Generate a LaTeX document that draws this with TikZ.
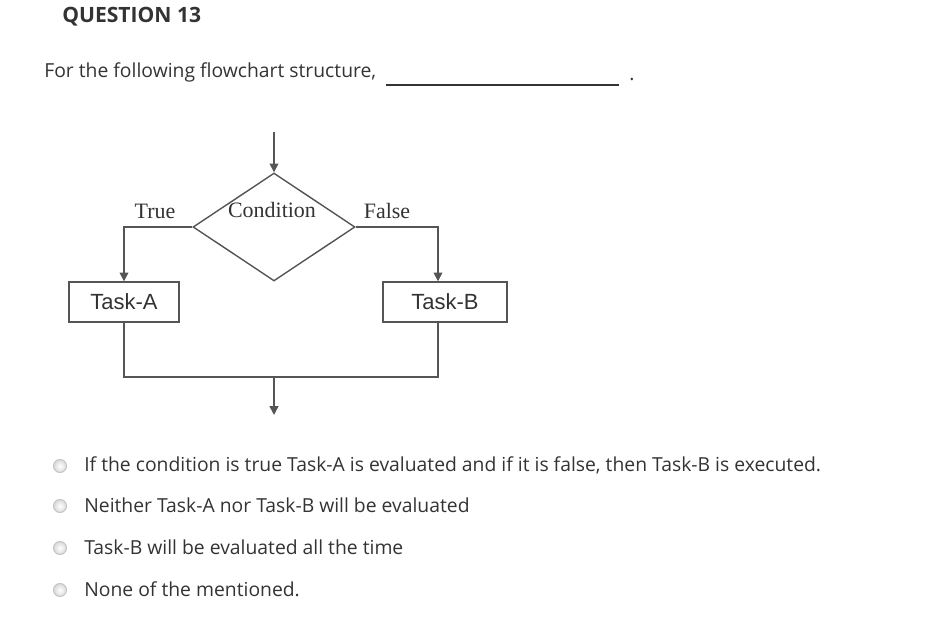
\documentclass[tikz,border=0pt]{standalone}
\usepackage{fontspec}
\setmainfont{Open Sans}
\newfontfamily\timesfont{Liberation Serif}
\newfontfamily\arialfont{Liberation Sans}
\usetikzlibrary{shapes.geometric,arrows.meta}
\definecolor{textgray}{HTML}{333333}
\definecolor{linegray}{HTML}{555555}
\tikzset{
    flow/.style={draw=linegray, line width=0.85pt},
    arr/.style={flow, -{Triangle[length=5pt,width=5pt]}},
    task/.style={draw=linegray, line width=0.8pt, minimum width=2.2cm, minimum height=0.8cm, inner sep=0pt, font=\arialfont\fontsize{12.5}{14}\selectfont, text=textgray},
    branch/.style={font=\timesfont\fontsize{12.5}{14}\selectfont, text=textgray, inner sep=0pt},
    radio/.style={circle, draw=gray!45, inner color=white, outer color=gray!30, line width=0.6pt, minimum size=0.26cm, inner sep=0pt},
    answer/.style={anchor=west, inner sep=0pt, font=\fontsize{11}{13}\selectfont, text=textgray}
}
\begin{document}
\begin{tikzpicture}[x=0.02cm, y=-0.02cm]
    \useasboundingbox (0,0) rectangle (934,644);
    % Heading and question
    \node[anchor=west, inner sep=0pt, font=\bfseries\fontsize{12}{15}\selectfont, text=textgray] (head) at (62,17) {QUESTION 13};
    \node[answer] (ask) at (44,72) {For the following flowchart structure,};
    \draw[textgray, line width=0.7pt] (386,85) -- (619,85);
    \node[answer] (dot) at (629,80) {.};

    % Draw the decision diamond
    \node[diamond, draw=linegray, line width=0.8pt, minimum width=3.24cm, minimum height=2.16cm, inner sep=0pt] (cond) at (274,227) {};
    \node[branch] (condtext) at (272,210) {Condition};
    \node[branch] (truetext) at (155,211) {True};
    \node[branch] (falsetext) at (387,211) {False};

    % Add the task boxes
    \node[task] (taskA) at (124,302) {Task-A};
    \node[task, minimum width=2.48cm] (taskB) at (445,302) {Task-B};

    % Connect everything
    \coordinate (in) at (274,132);
    \coordinate (join) at (274,377);
    \coordinate (out) at (274,415);
    \draw[arr] (in) -- (cond.north);
    \draw[arr] (cond.west) -| (taskA.north);
    \draw[arr] (cond.east) -| ([xshift=-0.14cm]taskB.north);
    \draw[flow] (taskA.south) |- (join) -| ([xshift=-0.14cm]taskB.south);
    \draw[arr] (join) -- (out);

    % Answer options
    \foreach \n/\y/\txt in {1/466/{If the condition is true Task-A is evaluated and if it is false, then Task-B is executed.},
                            2/506/{Neither Task-A nor Task-B will be evaluated},
                            3/548/{Task-B will be evaluated all the time},
                            4/590/{None of the mentioned.}} {
        \node[radio] (r\n) at (60,\y) {};
        \node[answer] (opt\n) at (84,\y-1) {\txt};
    }
\end{tikzpicture}
\end{document}
